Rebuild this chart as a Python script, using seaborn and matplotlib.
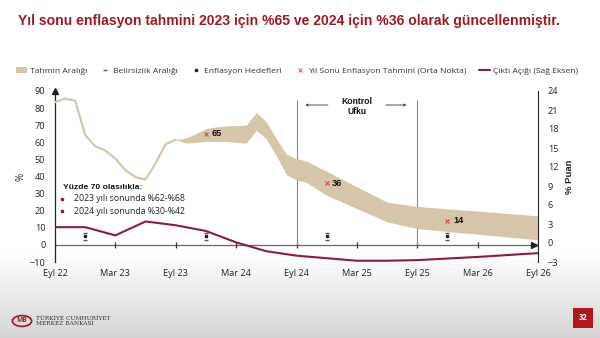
import numpy as np
import matplotlib
matplotlib.use("Agg")
import matplotlib.pyplot as plt
from matplotlib.patches import Patch, Circle
from matplotlib.lines import Line2D
import seaborn as sns

# Month index: 0 = Eyl 22 ... 48 = Eyl 26
tick_months = [0, 6, 12, 18, 24, 30, 36, 42, 48]
tick_labels = ["Eyl 22", "Mar 23", "Eyl 23", "Mar 24", "Eyl 24",
               "Mar 25", "Eyl 25", "Mar 26", "Eyl 26"]

# Realised annual CPI inflation (%)
actual_months = list(range(13))
actual_cpi = [83.45, 85.51, 84.39, 64.27, 57.68, 55.18, 50.51, 43.68,
              39.59, 38.21, 47.83, 58.94, 61.53]

# Forecast range (%)
band_months = [12, 13, 14, 15, 16, 17, 18, 19, 20, 21, 22, 23, 24, 25, 27, 33, 36, 48]
band_low = [61.5, 59.5, 60.0, 60.5, 60.5, 60.5, 60.0, 59.5, 67.0, 62.0,
            52.0, 41.0, 38.0, 36.5, 29.0, 13.5, 9.5, 3.0]
band_high = [61.5, 62.5, 65.0, 68.0, 69.0, 69.5, 69.8, 70.0, 77.5, 72.0,
             62.0, 53.0, 50.5, 49.0, 43.0, 25.0, 22.5, 17.0]

# Year-end forecasts (mid point)
forecast_months = [15, 27, 39]
forecast_mid = [65, 36, 14]

# Inflation targets and uncertainty band
target_months = [3, 15, 27, 39]
target_values = [5, 5, 5, 5]
uncert_low = [3, 3, 3, 3]
uncert_high = [7, 7, 7, 7]

# Output gap (right axis, % points), quarterly
gap_months = list(range(0, 49, 3))
output_gap = [2.5, 2.5, 1.2, 3.4, 2.8, 1.9, 0.1, -1.3, -2.0, -2.4, -2.8,
              -2.8, -2.7, -2.45, -2.2, -1.9, -1.6]

# Control horizon
control_months = [24, 36]

TAN = "#D6C5A8"
RED = "#8E1B3E"
XRED = "#C0504D"
TITLE_RED = "#9C1A22"

sns.set_theme(style="white")
plt.rcParams["font.family"] = ["Open Sans", "DejaVu Sans"]

fig = plt.figure(figsize=(6.0, 3.38), dpi=100)

# Page background with soft grey footer
bg = fig.add_axes([0, 0, 1, 1], zorder=-5)
H = 338
ys = np.arange(H)
shade = np.where(ys < 250, 1.0, 1.0 - 0.17 * (ys - 250) / (H - 250))
bg.imshow(shade[:, None], aspect="auto", cmap="gray", vmin=0, vmax=1,
          extent=[0, 1, 0, 1])
bg.axis("off")

ax = fig.add_axes([55 / 600, 1 - 262 / 338, 483 / 600, 171 / 338])
ax.set_facecolor("none")
ax.set_xlim(0, 48)
ax.set_ylim(-10, 90)

ax2 = ax.twinx()
ax2.set_ylim(-3, 24)

# Forecast band and realised inflation
ax.fill_between(band_months, band_low, band_high, color=TAN, lw=0, zorder=2)
sns.lineplot(x=actual_months, y=actual_cpi, ax=ax, color=TAN, lw=1.6, zorder=3)

# Year-end mid points
ax.plot(forecast_months, forecast_mid, ls="none", marker="x", ms=3.2,
        mew=0.8, color=XRED, zorder=5)
for m, v in zip(forecast_months, forecast_mid):
    ax.text(m + 0.55, v, f"{v}", fontsize=6.6, fontweight="bold",
            family=["Liberation Sans", "DejaVu Sans"], va="center",
            ha="left", color="#111", zorder=6)

# Targets with uncertainty range
ax.plot(target_months, uncert_low, ls="none", marker="_", ms=2.5, mew=1.0,
        color="#555", zorder=5)
ax.plot(target_months, uncert_high, ls="none", marker="_", ms=2.5, mew=1.0,
        color="#555", zorder=5)
ax.plot(target_months, target_values, ls="none", marker="s", ms=1.6,
        color="#222", zorder=5)

# Zero axis with half-year ticks and arrow heads
ax.axhline(0, color="#666", lw=0.9, zorder=1)
ax.plot(tick_months, [0] * len(tick_months), ls="none", marker="|", ms=4,
        mew=0.9, color="#333", zorder=1)
ax.plot([47.6], [0], marker=">", ms=4, color="#222", clip_on=False, zorder=6)
ax.plot([0], [90], marker="^", ms=4, color="#222", clip_on=False, zorder=6)

# Control horizon
ax.vlines(control_months, 0, 84.5, color="#888", lw=0.8, zorder=1)
ax.text(30, 81, "Kontrol\nUfku", ha="center", va="center", fontsize=6.2,
        fontweight="bold", family=["Liberation Sans", "DejaVu Sans"],
        linespacing=1.25, color="#111")
ax.annotate("", xy=(24.6, 81.8), xytext=(27.4, 81.8),
            arrowprops=dict(arrowstyle="->", color="#333", lw=0.6,
                            mutation_scale=4))
ax.annotate("", xy=(35.2, 81.8), xytext=(32.6, 81.8),
            arrowprops=dict(arrowstyle="->", color="#333", lw=0.6,
                            mutation_scale=4))

# Probability note
ax.text(0.8, 33.8, "Yüzde 70 olasılıkla:", fontsize=6.1, fontweight="bold",
        family=["Liberation Sans", "DejaVu Sans"], va="center", color="#111")
for yy, txt in [(27.0, "2023 yılı sonunda %62-%68"),
                (19.6, "2024 yılı sonunda %30-%42")]:
    ax.plot([0.67], [yy], ls="none", marker="s", ms=2, color=RED)
    ax.text(1.9, yy, txt, fontsize=6.3, va="center", color="#222")

# Output gap on right axis
sns.lineplot(x=gap_months, y=output_gap, ax=ax2, color=RED, lw=1.5, zorder=4)

# Axes styling
for s in ["top", "right", "bottom"]:
    ax.spines[s].set_visible(False)
ax.spines["left"].set_color("#222")
ax.spines["left"].set_linewidth(0.9)
for s in ["top", "left", "bottom"]:
    ax2.spines[s].set_visible(False)
ax2.spines["right"].set_color("#222")
ax2.spines["right"].set_linewidth(0.8)

ax.set_xticks(tick_months)
ax.set_xticklabels(tick_labels)
ax.set_yticks(list(range(-10, 91, 10)))
ax.tick_params(axis="x", length=0, pad=5, labelsize=6.6, labelcolor="#222")
ax.tick_params(axis="y", length=0, pad=7, labelsize=6.6, labelcolor="#222")
ax2.set_yticks(list(range(-3, 25, 3)))
ax2.tick_params(axis="y", length=0, pad=7, labelsize=6.6, labelcolor="#222")
ax.grid(False)
ax2.grid(False)

ax.set_ylabel("%", fontsize=7, color="#222")
ax.yaxis.set_label_coords(-0.058, 0.5)
ax2.set_ylabel("% Puan", fontsize=6.8, fontweight="bold", color="#222",
               family=["Liberation Sans", "DejaVu Sans"])
ax2.yaxis.set_label_coords(1.056, 0.5)

# Title
fig.text(18 / 600, 1 - 21 / 338,
         "Yıl sonu enflasyon tahmini 2023 için %65 ve 2024 için %36 olarak güncellenmiştir.",
         fontsize=10.05, fontweight="bold", color=TITLE_RED, va="center",
         ha="left", family=["Liberation Sans", "DejaVu Sans"])

# Legend row
handles = [
    Patch(facecolor=TAN, edgecolor="none"),
    Line2D([], [], ls="none", marker="_", ms=3, mew=1, color="#555"),
    Line2D([], [], ls="none", marker="s", ms=2, color="#222"),
    Line2D([], [], ls="none", marker="x", ms=3, mew=0.7, color=XRED),
    Line2D([], [], color=RED, lw=1.5),
]
labels = ["Tahmin Aralığı", "Belirsizlik Aralığı", "Enflasyon Hedefleri",
          "Yıl Sonu Enflasyon Tahmini (Orta Nokta)", "Çıktı Açığı (Sağ Eksen)"]
fig.legend(handles, labels, loc="center", bbox_to_anchor=(297 / 600, 1 - 71 / 338),
           ncol=5, frameon=False, fontsize=6.1, handlelength=1.3,
           handleheight=0.8, handletextpad=0.3, columnspacing=1.5,
           labelcolor="#333")

# Footer: bank logo and page number
fig.patches.append(Circle((22 / 600, 1 - 321 / 338), 0.016, transform=fig.transFigure,
                          facecolor="none", edgecolor="#A3202A", lw=1.3))
fig.text(22 / 600, 1 - 321 / 338, "MB", fontsize=4.8, fontweight="bold",
         color="#A3202A", ha="center", va="center")
fig.text(36 / 600, 1 - 321 / 338, "TÜRKİYE CUMHURİYET\nMERKEZ BANKASI",
         fontsize=4.2, color="#333", ha="left", va="center", linespacing=1.1,
         family=["DejaVu Serif"])
fig.text(583 / 600, 1 - 318 / 338, "32", fontsize=5.5, fontweight="bold",
         color="white", ha="center", va="center",
         bbox=dict(boxstyle="square,pad=0.7", facecolor="#B0161E",
                   edgecolor="none"))

fig.savefig("out.png", dpi=100)
